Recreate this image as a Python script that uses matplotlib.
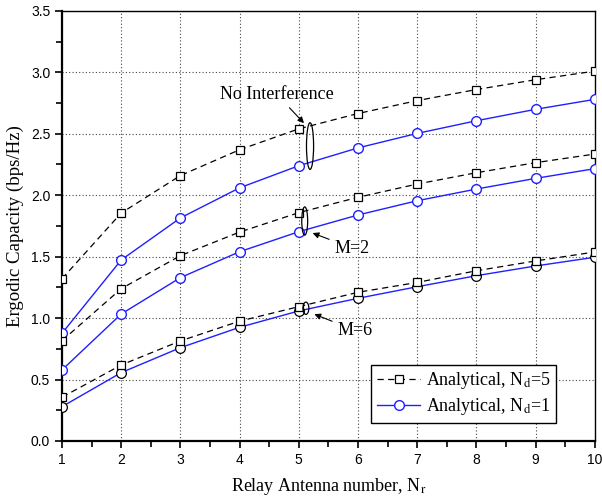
import matplotlib
matplotlib.use('Agg')
import matplotlib.pyplot as plt
from matplotlib.patches import Ellipse
from matplotlib.ticker import MultipleLocator

plt.rcParams['mathtext.fontset'] = 'stix'

# relay antenna number
nr = [1, 2, 3, 4, 5, 6, 7, 8, 9, 10]

# No interference
ni_nd5 = [1.32, 1.855, 2.16, 2.37, 2.54, 2.665, 2.77, 2.86, 2.94, 3.01]
ni_nd1 = [0.876, 1.473, 1.815, 2.06, 2.24, 2.385, 2.503, 2.606, 2.699, 2.78]
# M = 2
m2_nd5 = [0.816, 1.239, 1.508, 1.70, 1.858, 1.983, 2.091, 2.183, 2.265, 2.335]
m2_nd1 = [0.578, 1.033, 1.329, 1.54, 1.703, 1.839, 1.955, 2.05, 2.137, 2.216]
# M = 6
m6_nd5 = [0.356, 0.618, 0.814, 0.975, 1.093, 1.21, 1.29, 1.385, 1.465, 1.538]
m6_nd1 = [0.279, 0.556, 0.759, 0.925, 1.058, 1.161, 1.255, 1.345, 1.424, 1.495]

blue = '#1f1fff'

fig = plt.figure(figsize=(6.02, 4.96), dpi=100)
ax = fig.add_axes([0.103, 0.111, 0.885, 0.867])

dash_kw = dict(color='black', ls=(0, (5, 3.5)), lw=0.9, marker='s', ms=5.5,
               mfc='white', mec='black', mew=0.9)
sol_kw = dict(color=blue, ls='-', lw=1.0, marker='o', ms=7,
              mfc='white', mec=blue, mew=1.0)

ax.plot(nr, ni_nd5, **dash_kw, label=r'Analytical, N$_{\rm d}$=5', zorder=4)
ax.plot(nr, ni_nd1, **sol_kw, label=r'Analytical, N$_{\rm d}$=1', zorder=3)
ax.plot(nr, m2_nd5, **dash_kw, zorder=4)
ax.plot(nr, m2_nd1, **sol_kw, zorder=3)
ax.plot(nr, m6_nd1, color=blue, ls='-', lw=1.0, marker='o', ms=7,
        mfc='white', mec='black', mew=0.9, zorder=3)
ax.plot(nr, m6_nd5, **dash_kw, zorder=4)

ax.set_xlim(1, 10)
ax.set_ylim(0, 3.5)
ax.xaxis.set_major_locator(MultipleLocator(1))
ax.xaxis.set_minor_locator(MultipleLocator(0.5))
ax.yaxis.set_major_locator(MultipleLocator(0.5))
ax.yaxis.set_minor_locator(MultipleLocator(0.25))
ax.grid(True, which='major', ls=(0, (1, 2)), color='#444444', lw=0.8)
ax.tick_params(which='both', direction='out', top=False, right=False,
               labelsize=10, width=1.2)
ax.tick_params(which='major', length=5)
ax.tick_params(which='minor', length=4)
ax.set_xticks(nr)
ax.set_xticklabels([str(v) for v in nr], fontfamily='Liberation Sans')
yt = [0.0, 0.5, 1.0, 1.5, 2.0, 2.5, 3.0, 3.5]
ax.set_yticks(yt)
ax.set_yticklabels(['%.1f' % v for v in yt], fontfamily='Liberation Sans')

for s in ['left', 'bottom']:
    ax.spines[s].set_linewidth(1.6)
for s in ['top', 'right']:
    ax.spines[s].set_linewidth(1.0)

ax.set_xlabel(r'Relay Antenna number, N$_{\rm r}$', fontfamily='Liberation Serif',
              fontsize=13, labelpad=7)
ax.set_ylabel('Ergodic Capacity (bps/Hz)', fontfamily='Liberation Serif',
              fontsize=13.6, labelpad=5)

# ellipses marking curve groups
for cx, cy, w, h in [(5.19, 2.40, 0.12, 0.38), (5.10, 1.79, 0.10, 0.23),
                     (5.12, 1.08, 0.10, 0.10)]:
    ax.add_patch(Ellipse((cx, cy), w, h, fill=False, ec='black', lw=0.9, zorder=5))

arr = dict(arrowstyle='-|>', color='black', lw=0.8, mutation_scale=9)
ax.annotate('No Interference', xy=(5.12, 2.57), xytext=(4.63, 2.82),
            ha='center', va='center', fontsize=13, fontfamily='Liberation Serif',
            arrowprops=arr)
ax.annotate('M=2', xy=(5.19, 1.70), xytext=(5.90, 1.57),
            ha='center', va='center', fontsize=13, fontfamily='Liberation Serif',
            arrowprops=arr)
ax.annotate('M=6', xy=(5.22, 1.04), xytext=(5.95, 0.90),
            ha='center', va='center', fontsize=13, fontfamily='Liberation Serif',
            arrowprops=arr)

leg = ax.legend(loc='lower right', bbox_to_anchor=(0.927, 0.042), fancybox=False,
                framealpha=1, edgecolor='black', prop={'family': 'Liberation Serif', 'size': 13},
                handlelength=2.4, handletextpad=0.3, borderpad=0.3, labelspacing=0.3,
                borderaxespad=0)
leg.get_frame().set_linewidth(1.0)

fig.savefig('out.png', dpi=100)
